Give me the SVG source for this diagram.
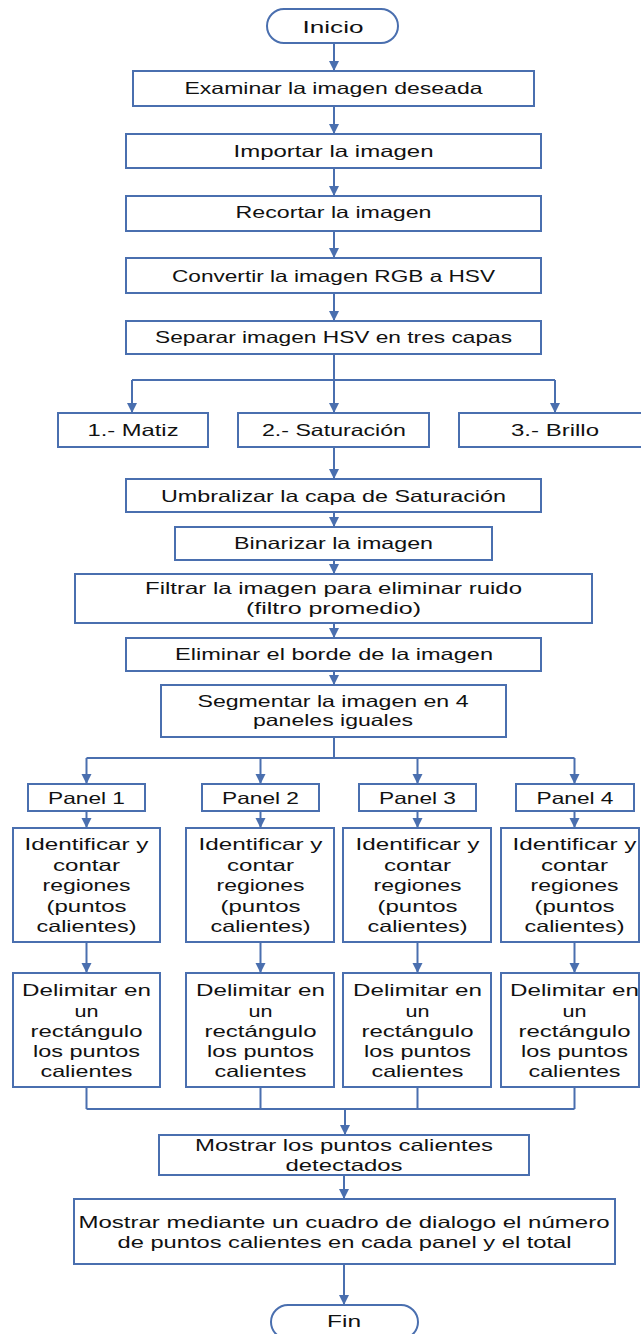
<svg xmlns="http://www.w3.org/2000/svg" width="641" height="1334" viewBox="0 0 641 1334">
<style>
.b{fill:#fff;stroke:#4A6FAF;stroke-width:2}
.t{font-family:"Liberation Sans",Arial,sans-serif;font-size:16.5px;fill:#111;text-anchor:middle}
.c{fill:none;stroke:#4A6FAF;stroke-width:2}
</style>
<defs>
<marker id="ah" viewBox="0 0 10 10" refX="10" refY="5" markerWidth="10" markerHeight="11" markerUnits="userSpaceOnUse" orient="auto"><path d="M0,0L10,5L0,10z" fill="#4A6FAF"/></marker>
</defs>
<rect width="641" height="1334" fill="#fff"/>
<g id="connectors">
<path class="c" marker-end="url(#ah)" d="M334,43V71"/>
<path class="c" marker-end="url(#ah)" d="M334,106V134"/>
<path class="c" marker-end="url(#ah)" d="M334,168V196"/>
<path class="c" marker-end="url(#ah)" d="M334,231V258"/>
<path class="c" marker-end="url(#ah)" d="M334,293V321"/>
<path class="c" d="M334,354V380M132,380H555"/>
<path class="c" marker-end="url(#ah)" d="M132,380V413"/>
<path class="c" marker-end="url(#ah)" d="M334,380V413"/>
<path class="c" marker-end="url(#ah)" d="M555,380V413"/>
<path class="c" marker-end="url(#ah)" d="M334,447V479"/>
<path class="c" marker-end="url(#ah)" d="M334,512V527"/>
<path class="c" marker-end="url(#ah)" d="M334,560V574"/>
<path class="c" marker-end="url(#ah)" d="M334,623V638"/>
<path class="c" marker-end="url(#ah)" d="M334,671V685"/>
<path class="c" d="M334,737V758M86.5,758H574.5"/>
<path class="c" marker-end="url(#ah)" d="M86.5,758V784"/>
<path class="c" marker-end="url(#ah)" d="M260.5,758V784"/>
<path class="c" marker-end="url(#ah)" d="M417.5,758V784"/>
<path class="c" marker-end="url(#ah)" d="M574.5,758V784"/>
<path class="c" marker-end="url(#ah)" d="M86.5,811V828"/>
<path class="c" marker-end="url(#ah)" d="M260.5,811V828"/>
<path class="c" marker-end="url(#ah)" d="M417.5,811V828"/>
<path class="c" marker-end="url(#ah)" d="M574.5,811V828"/>
<path class="c" marker-end="url(#ah)" d="M86.5,942V973"/>
<path class="c" marker-end="url(#ah)" d="M260.5,942V973"/>
<path class="c" marker-end="url(#ah)" d="M417.5,942V973"/>
<path class="c" marker-end="url(#ah)" d="M574.5,942V973"/>
<path class="c" d="M86.5,1087V1109M260.5,1087V1109M417.5,1087V1109M574.5,1087V1109M86.5,1109H574.5"/>
<path class="c" marker-end="url(#ah)" d="M345,1109V1135"/>
<path class="c" marker-end="url(#ah)" d="M344,1175V1199"/>
<path class="c" marker-end="url(#ah)" d="M344,1264V1305"/>
</g>
<g id="inicio"><rect class="b" x="267" y="9" width="131" height="34" rx="17"/><text class="t" x="333" y="33" font-size="18" textLength="61" lengthAdjust="spacingAndGlyphs">Inicio</text></g>
<g id="examinar"><rect class="b" x="133" y="71" width="401" height="35"/><text class="t" x="333.5" y="94" textLength="298" lengthAdjust="spacingAndGlyphs">Examinar la imagen deseada</text></g>
<g id="importar"><rect class="b" x="126" y="134" width="415" height="34"/><text class="t" x="333.5" y="157" textLength="200" lengthAdjust="spacingAndGlyphs">Importar la imagen</text></g>
<g id="recortar"><rect class="b" x="126" y="196" width="415" height="35"/><text class="t" x="333.5" y="218" textLength="196" lengthAdjust="spacingAndGlyphs">Recortar la imagen</text></g>
<g id="convertir"><rect class="b" x="126" y="258" width="415" height="35"/><text class="t" x="333.5" y="282" textLength="323" lengthAdjust="spacingAndGlyphs">Convertir la imagen RGB a HSV</text></g>
<g id="separar"><rect class="b" x="126" y="321" width="415" height="33"/><text class="t" x="333.5" y="343" textLength="357" lengthAdjust="spacingAndGlyphs">Separar imagen HSV en tres capas</text></g>
<g id="matiz"><rect class="b" x="58" y="413" width="150" height="34"/><text class="t" x="133" y="436" textLength="91" lengthAdjust="spacingAndGlyphs">1.- Matiz</text></g>
<g id="saturacion"><rect class="b" x="238" y="413" width="191" height="34"/><text class="t" x="334" y="436" textLength="144" lengthAdjust="spacingAndGlyphs">2.- Saturación</text></g>
<g id="brillo"><rect class="b" x="459" y="413" width="190" height="34"/><text class="t" x="555" y="436" textLength="88" lengthAdjust="spacingAndGlyphs">3.- Brillo</text></g>
<g id="umbralizar"><rect class="b" x="126" y="479" width="415" height="33"/><text class="t" x="333.5" y="501.5" textLength="345" lengthAdjust="spacingAndGlyphs">Umbralizar la capa de Saturación</text></g>
<g id="binarizar"><rect class="b" x="175" y="527" width="317" height="33"/><text class="t" x="333.5" y="549" textLength="199" lengthAdjust="spacingAndGlyphs">Binarizar la imagen</text></g>
<g id="filtrar"><rect class="b" x="75" y="574" width="517" height="49"/><text class="t" x="333.5" y="594" textLength="377" lengthAdjust="spacingAndGlyphs">Filtrar la imagen para eliminar ruido</text><text class="t" x="333.5" y="614" textLength="175" lengthAdjust="spacingAndGlyphs">(filtro promedio)</text></g>
<g id="eliminar"><rect class="b" x="126" y="638" width="415" height="33"/><text class="t" x="334" y="660" textLength="318" lengthAdjust="spacingAndGlyphs">Eliminar el borde de la imagen</text></g>
<g id="segmentar"><rect class="b" x="161" y="685" width="345" height="52"/><text class="t" x="333" y="706.5" textLength="271" lengthAdjust="spacingAndGlyphs">Segmentar la imagen en 4</text><text class="t" x="333" y="726" textLength="160" lengthAdjust="spacingAndGlyphs">paneles iguales</text></g>
<g id="panel1"><rect class="b" x="28" y="784" width="117" height="27"/><text class="t" x="86.5" y="803.5" textLength="77" lengthAdjust="spacingAndGlyphs">Panel 1</text></g>
<g id="panel2"><rect class="b" x="202" y="784" width="117" height="27"/><text class="t" x="260.5" y="803.5" textLength="77" lengthAdjust="spacingAndGlyphs">Panel 2</text></g>
<g id="panel3"><rect class="b" x="359" y="784" width="117" height="27"/><text class="t" x="417.5" y="803.5" textLength="77" lengthAdjust="spacingAndGlyphs">Panel 3</text></g>
<g id="panel4"><rect class="b" x="516" y="784" width="118" height="27"/><text class="t" x="575" y="803.5" textLength="77" lengthAdjust="spacingAndGlyphs">Panel 4</text></g>
<g id="identificar1"><rect class="b" x="13" y="828" width="147" height="114"/>
<text class="t" x="86.5" y="850" textLength="124" lengthAdjust="spacingAndGlyphs">Identificar y</text><text class="t" x="86.5" y="870.5" textLength="67" lengthAdjust="spacingAndGlyphs">contar</text><text class="t" x="86.5" y="891" textLength="88" lengthAdjust="spacingAndGlyphs">regiones</text><text class="t" x="86.5" y="911.5" textLength="80" lengthAdjust="spacingAndGlyphs">(puntos</text><text class="t" x="86.5" y="932" textLength="100" lengthAdjust="spacingAndGlyphs">calientes)</text></g>
<g id="identificar2"><rect class="b" x="186" y="828" width="148" height="114"/>
<text class="t" x="260.5" y="850" textLength="124" lengthAdjust="spacingAndGlyphs">Identificar y</text><text class="t" x="260.5" y="870.5" textLength="67" lengthAdjust="spacingAndGlyphs">contar</text><text class="t" x="260.5" y="891" textLength="88" lengthAdjust="spacingAndGlyphs">regiones</text><text class="t" x="260.5" y="911.5" textLength="80" lengthAdjust="spacingAndGlyphs">(puntos</text><text class="t" x="260.5" y="932" textLength="100" lengthAdjust="spacingAndGlyphs">calientes)</text></g>
<g id="identificar3"><rect class="b" x="343" y="828" width="148" height="114"/>
<text class="t" x="417.5" y="850" textLength="124" lengthAdjust="spacingAndGlyphs">Identificar y</text><text class="t" x="417.5" y="870.5" textLength="67" lengthAdjust="spacingAndGlyphs">contar</text><text class="t" x="417.5" y="891" textLength="88" lengthAdjust="spacingAndGlyphs">regiones</text><text class="t" x="417.5" y="911.5" textLength="80" lengthAdjust="spacingAndGlyphs">(puntos</text><text class="t" x="417.5" y="932" textLength="100" lengthAdjust="spacingAndGlyphs">calientes)</text></g>
<g id="identificar4"><rect class="b" x="501" y="828" width="138" height="114"/>
<text class="t" x="574.5" y="850" textLength="124" lengthAdjust="spacingAndGlyphs">Identificar y</text><text class="t" x="574.5" y="870.5" textLength="67" lengthAdjust="spacingAndGlyphs">contar</text><text class="t" x="574.5" y="891" textLength="88" lengthAdjust="spacingAndGlyphs">regiones</text><text class="t" x="574.5" y="911.5" textLength="80" lengthAdjust="spacingAndGlyphs">(puntos</text><text class="t" x="574.5" y="932" textLength="100" lengthAdjust="spacingAndGlyphs">calientes)</text></g>
<g id="delimitar1"><rect class="b" x="13" y="973" width="147" height="114"/>
<text class="t" x="86.5" y="996" textLength="129" lengthAdjust="spacingAndGlyphs">Delimitar en</text><text class="t" x="86.5" y="1016.5" textLength="24" lengthAdjust="spacingAndGlyphs">un</text><text class="t" x="86.5" y="1036.5" textLength="112" lengthAdjust="spacingAndGlyphs">rectángulo</text><text class="t" x="86.5" y="1057" textLength="107" lengthAdjust="spacingAndGlyphs">los puntos</text><text class="t" x="86.5" y="1077" textLength="92" lengthAdjust="spacingAndGlyphs">calientes</text></g>
<g id="delimitar2"><rect class="b" x="186" y="973" width="148" height="114"/>
<text class="t" x="260.5" y="996" textLength="129" lengthAdjust="spacingAndGlyphs">Delimitar en</text><text class="t" x="260.5" y="1016.5" textLength="24" lengthAdjust="spacingAndGlyphs">un</text><text class="t" x="260.5" y="1036.5" textLength="112" lengthAdjust="spacingAndGlyphs">rectángulo</text><text class="t" x="260.5" y="1057" textLength="107" lengthAdjust="spacingAndGlyphs">los puntos</text><text class="t" x="260.5" y="1077" textLength="92" lengthAdjust="spacingAndGlyphs">calientes</text></g>
<g id="delimitar3"><rect class="b" x="343" y="973" width="148" height="114"/>
<text class="t" x="417.5" y="996" textLength="129" lengthAdjust="spacingAndGlyphs">Delimitar en</text><text class="t" x="417.5" y="1016.5" textLength="24" lengthAdjust="spacingAndGlyphs">un</text><text class="t" x="417.5" y="1036.5" textLength="112" lengthAdjust="spacingAndGlyphs">rectángulo</text><text class="t" x="417.5" y="1057" textLength="107" lengthAdjust="spacingAndGlyphs">los puntos</text><text class="t" x="417.5" y="1077" textLength="92" lengthAdjust="spacingAndGlyphs">calientes</text></g>
<g id="delimitar4"><rect class="b" x="501" y="973" width="138" height="114"/>
<text class="t" x="574.5" y="996" textLength="129" lengthAdjust="spacingAndGlyphs">Delimitar en</text><text class="t" x="574.5" y="1016.5" textLength="24" lengthAdjust="spacingAndGlyphs">un</text><text class="t" x="574.5" y="1036.5" textLength="112" lengthAdjust="spacingAndGlyphs">rectángulo</text><text class="t" x="574.5" y="1057" textLength="107" lengthAdjust="spacingAndGlyphs">los puntos</text><text class="t" x="574.5" y="1077" textLength="92" lengthAdjust="spacingAndGlyphs">calientes</text></g>
<g id="mostrar1"><rect class="b" x="159" y="1135" width="370" height="40"/><text class="t" x="344" y="1150.5" textLength="298" lengthAdjust="spacingAndGlyphs">Mostrar los puntos calientes</text><text class="t" x="344" y="1171" textLength="117" lengthAdjust="spacingAndGlyphs">detectados</text></g>
<g id="mostrar2"><rect class="b" x="74" y="1199" width="541" height="65"/><text class="t" x="344" y="1228" textLength="531" lengthAdjust="spacingAndGlyphs">Mostrar mediante un cuadro de dialogo el número</text><text class="t" x="344.5" y="1248" textLength="454" lengthAdjust="spacingAndGlyphs">de puntos calientes en cada panel y el total</text></g>
<g id="fin"><rect class="b" x="271" y="1305" width="147" height="34" rx="17"/><text class="t" x="344" y="1327" font-size="18" textLength="34" lengthAdjust="spacingAndGlyphs">Fin</text></g>
</svg>
